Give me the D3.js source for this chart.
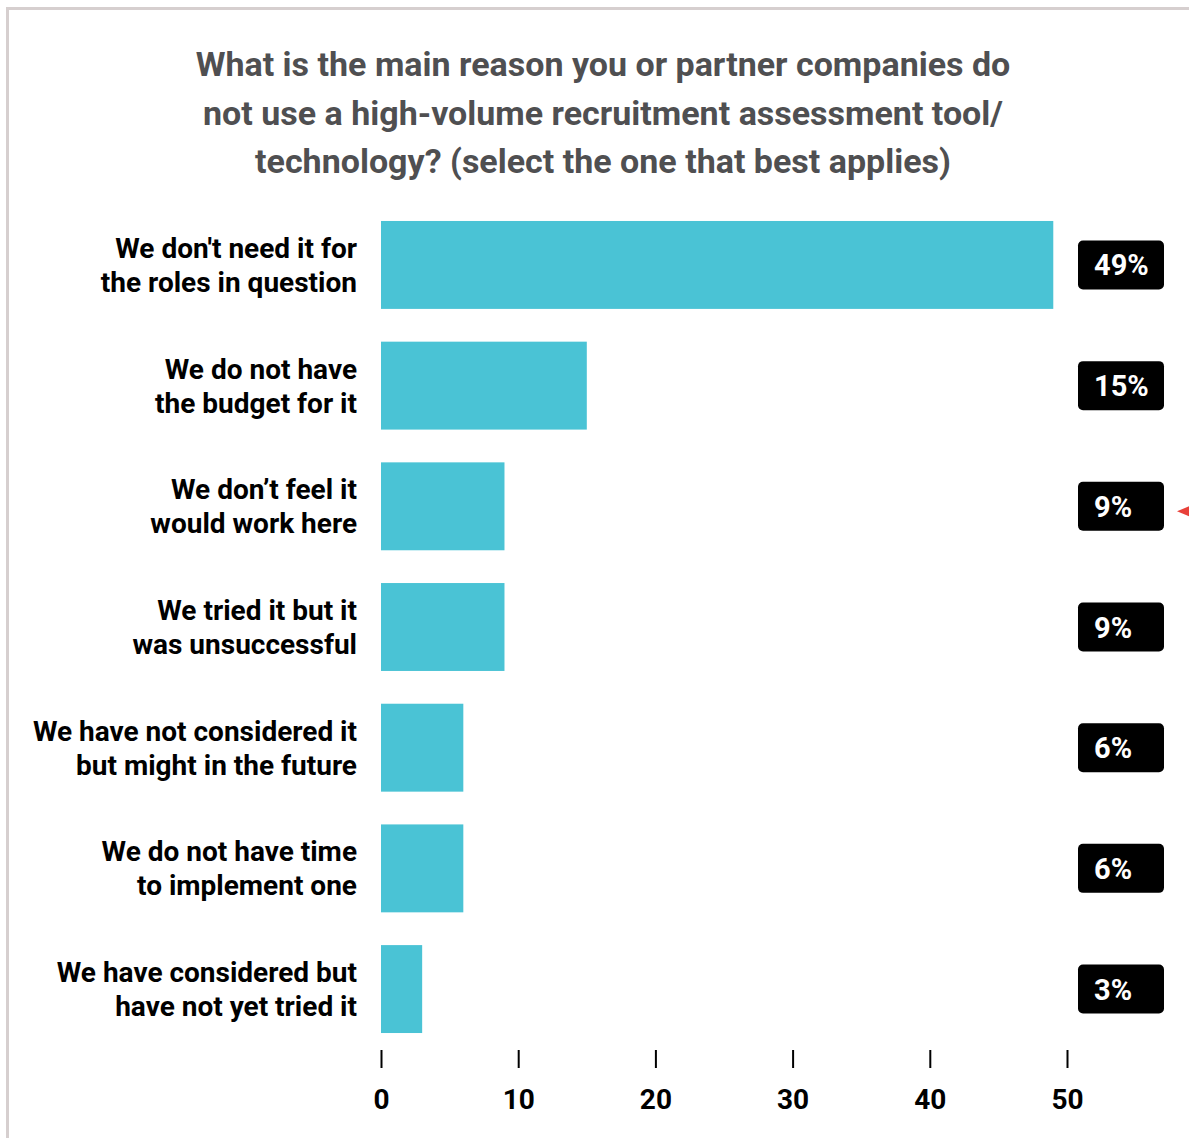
<!DOCTYPE html>
<html>
<head>
<meta charset="utf-8">
<script src="https://cdn.jsdelivr.net/npm/d3@7"></script>
<style>
  html, body { margin: 0; padding: 0; background: #ffffff; }
  svg { display: block; font-family: Roboto, "Noto Sans", sans-serif; }
</style>
</head>
<body>
<svg id="chart" width="1189" height="1138"></svg>
<script>
// Survey answers, top to bottom; "\n" marks the line break in each label
const categories = [
  "We don't need it for\nthe roles in question",
  "We do not have\nthe budget for it",
  "We don\u2019t feel it\nwould work here",
  "We tried it but it\nwas unsuccessful",
  "We have not considered it\nbut might in the future",
  "We do not have time\nto implement one",
  "We have considered but\nhave not yet tried it"
];
const values = [49, 15, 9, 9, 6, 6, 3];
const tickValues = [0, 10, 20, 30, 40, 50];
const titleLines = [
  "What is the main reason you or partner companies do",
  "not use a high-volume recruitment assessment tool/",
  "technology? (select the one that best applies)"
];

const svg = d3.select("#chart");

// card frame
svg.append("rect")
  .attr("x", 7.5).attr("y", 8.5)
  .attr("width", 1300).attr("height", 1300)
  .attr("fill", "#ffffff")
  .attr("stroke", "#d6cfcf").attr("stroke-width", 3);

// title
svg.append("g").selectAll("text")
  .data(titleLines)
  .join("text")
  .attr("x", 603)
  .attr("y", (d, i) => 76 + i * 48.5)
  .attr("text-anchor", "middle")
  .attr("font-size", 34)
  .attr("font-weight", 700)
  .attr("fill", "#4f4f51")
  .text(d => d);

const x = d3.scaleLinear().domain([0, 50]).range([381, 1067]);
const y = d3.scaleBand()
  .domain(categories)
  .range([204.6, 1049.4])
  .paddingInner(0.2715)
  .paddingOuter(0.1357);

// bars
svg.append("g").selectAll("rect")
  .data(values)
  .join("rect")
  .attr("x", x(0))
  .attr("y", (d, i) => y(categories[i]))
  .attr("width", d => x(d) - x(0))
  .attr("height", y.bandwidth())
  .attr("fill", "#4ac3d5");

// category labels
const labels = svg.append("g").selectAll("text")
  .data(categories)
  .join("text")
  .attr("text-anchor", "end")
  .attr("font-size", 28)
  .attr("font-weight", 700)
  .attr("fill", "#000000");
labels.each(function (d) {
  const lines = d.split("\n");
  const cy = y(d) + y.bandwidth() / 2;
  d3.select(this).selectAll("tspan")
    .data(lines)
    .join("tspan")
    .attr("x", 357)
    .attr("y", (l, i) => cy + 10 + (i - (lines.length - 1) / 2) * 34)
    .text(l => l);
});

// value badges
const badges = svg.append("g").selectAll("g")
  .data(values)
  .join("g")
  .attr("transform", (d, i) => `translate(1078,${y(categories[i]) + y.bandwidth() / 2 - 24.5})`);
badges.append("rect")
  .attr("width", 86).attr("height", 49)
  .attr("rx", 5)
  .attr("fill", "#000000");
badges.append("text")
  .attr("x", 16).attr("y", 35)
  .attr("font-size", 29)
  .attr("font-weight", 700)
  .attr("fill", "#ffffff")
  .text(d => d + "%");

// small pointer next to the third badge
const py = y(categories[2]) + y.bandwidth() / 2 + 5;
svg.append("path")
  .attr("d", `M1177,${py} L1189,${py - 5} L1189,${py + 5} Z`)
  .attr("fill", "#e8413a");

// x axis: ticks and labels only
const axis = svg.append("g")
  .attr("transform", "translate(0,1050)")
  .call(d3.axisBottom(x).tickValues(tickValues).tickSize(18).tickPadding(21));
axis.select(".domain").remove();
axis.selectAll(".tick line").attr("stroke", "#000").attr("stroke-width", 2);
axis.selectAll(".tick text")
  .attr("font-size", 28)
  .attr("font-weight", 700)
  .attr("font-family", "Roboto, sans-serif")
  .attr("fill", "#000");
</script>
</body>
</html>
